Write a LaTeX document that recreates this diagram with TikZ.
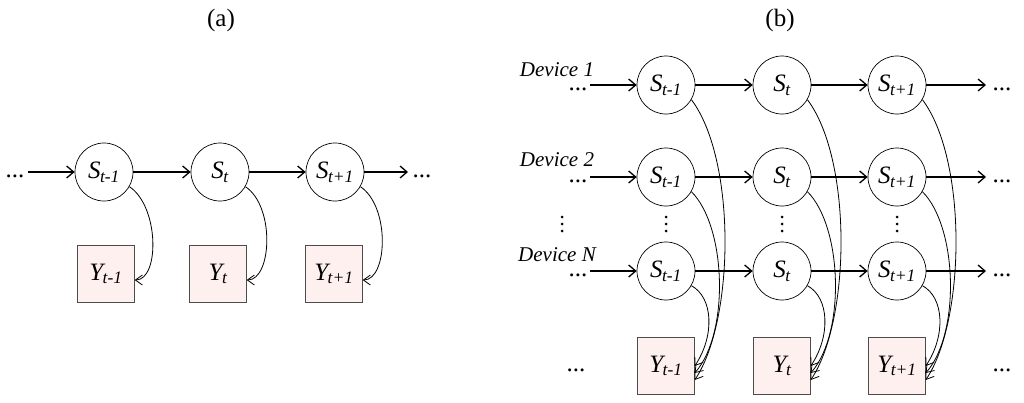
\documentclass[tikz,border=0pt]{standalone}
\usepackage{fontspec}
\setmainfont{Liberation Serif}
\usetikzlibrary{arrows.meta}
\newcommand{\St}[1]{\itshape S\textsubscript{\kern-0.5pt#1}}
\newcommand{\Yt}[1]{\itshape Y\textsubscript{\kern-0.5pt#1}}
\begin{document}
\begin{tikzpicture}[x=1pt,y=-1pt,every node/.style={font=\fontsize{25}{27}\selectfont},
  st/.style={circle,draw,line width=0.7pt,minimum size=58pt,inner sep=0pt},
  ob/.style={draw=black!70,fill=red!6,minimum size=57pt,inner sep=0pt},
  ar/.style={-{Straight Barb[length=7pt,width=12pt]},line width=1.3pt},
  cr/.style={-{Straight Barb[length=7pt,width=10pt]},line width=0.8pt},
  lab/.style={font=\fontsize{21}{23}\selectfont\itshape}]
\useasboundingbox (0,0) rectangle (1024,402);
\node at (221,20) {(a)};
\node at (780,20) {(b)};
% (a)
\node (al) at (15,176) {...};
\node (ar) at (422,176) {...};
\node[st] (a1) at (104,172) {\St{t-1}};
\node[st] (a2) at (220,172) {\St{t}};
\node[st] (a3) at (335,172) {\St{t+1}};
\node[ob] (y1) at (106,274) {\Yt{t-1}};
\node[ob] (y2) at (218,274) {\Yt{t}};
\node[ob] (y3) at (334,274) {\Yt{t+1}};
\coordinate (as) at (28,172); \coordinate (ae) at (408,172);
\draw[ar] (as) -- (a1); \draw[ar] (a1) -- (a2); \draw[ar] (a2) -- (a3); \draw[ar] (a3) -- (ae);
\foreach \i in {1,2,3}{\draw[cr] (a\i.-30) .. controls +(30,20) and +(25,0) .. ([yshift=-6pt]y\i.east);}
% (b)
\node[lab] (d1) at (557,70) {Device 1};
\node[lab] (d2) at (557,160) {Device 2};
\node[lab] (d3) at (557,255) {Device N};
\foreach \x in {562,666,782,897}{\foreach \dy in {-7,0,7}{\fill (\x,224+\dy) circle (1.5pt);}}
\foreach \r/\y in {1/85,2/177,3/271}{
  \node (l\r) at (578,89+\y-85) {...};
  \node (r\r) at (1002,89+\y-85) {...};
  \node[st] (b\r1) at (666,\y) {\St{t-1}};
  \node[st] (b\r2) at (782,\y) {\St{t}};
  \node[st] (b\r3) at (897,\y) {\St{t+1}};
  \coordinate (bs\r) at (590,\y); \coordinate (be\r) at (986,\y);
  \draw[ar] (bs\r) -- (b\r1); \draw[ar] (b\r1) -- (b\r2); \draw[ar] (b\r2) -- (b\r3); \draw[ar] (b\r3) -- (be\r);
}
\node[ob] (c1) at (666,366) {\Yt{t-1}};
\node[ob] (c2) at (782,366) {\Yt{t}};
\node[ob] (c3) at (897,366) {\Yt{t+1}};
\node at (576,370) {...};
\node at (1002,370) {...};
\foreach \c in {1,2,3}{
  \draw[cr] (b1\c.-30) .. controls +(45,60) and +(40,-60) .. ([yshift=-14pt]c\c.east);
  \draw[cr] (b2\c.-30) .. controls +(35,35) and +(35,-40) .. ([yshift=-7pt]c\c.east);
  \draw[cr] (b3\c.-30) .. controls +(22,12) and +(20,-30) .. ([yshift=0pt]c\c.east);
}
\end{tikzpicture}
\end{document}
